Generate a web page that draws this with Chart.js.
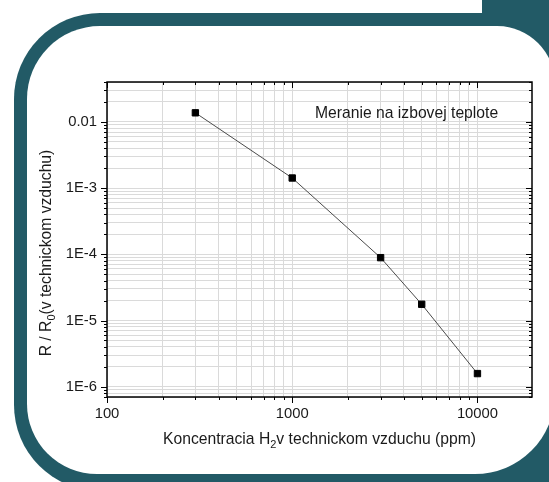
<!DOCTYPE html>
<html>
<head>
<meta charset="utf-8">
<script src="https://cdn.jsdelivr.net/npm/chart.js@4.4.1/dist/chart.umd.min.js"></script>
<style>
    html, body { margin: 0; padding: 0; background: #fff; overflow: hidden; }
    .tab { position: absolute; left: 482px; top: 0; width: 67px; height: 14px; background: #225a66; }
    .outer { position: absolute; left: 14px; top: 13px; width: 700px; height: 478px; border-radius: 86px; background: #225a66; }
    .inner { position: absolute; left: 27px; top: 26px; width: 528px; height: 448px; background: #fff;
             border-radius: 73px 58px 80px 70px; }
    .chart-box { position: absolute; left: 0; top: 0; width: 549px; height: 482px; }
</style>
</head>
<body>
<div class="tab"></div>
<div class="outer"></div>
<div class="inner"></div>
<div class="chart-box"><canvas id="sensorChart"></canvas></div>

<script>
    // Data
    const concentration = [300, 1000, 3000, 5000, 10000];           // ppm
    const resistanceRatio = [0.0137, 0.00142, 8.9e-5, 1.76e-5, 1.58e-6];

    const xTickValues = [100, 1000, 10000];
    const xTickLabels = ['100', '1000', '10000'];
    const yTickValues = [1e-6, 1e-5, 1e-4, 1e-3, 1e-2];
    const yTickLabels = ['1E-6', '1E-5', '1E-4', '1E-3', '0.01'];

    const seriesLabel = 'Meranie na izbovej teplote';
    const xTitle = [{ t: 'Koncentracia H' }, { t: '2', sub: true }, { t: 'v technickom vzduchu (ppm)' }];
    const yTitle = [{ t: 'R / R' }, { t: '0', sub: true }, { t: '(v technickom vzduchu)' }];

    const FONT = "'Liberation Sans', Arial, sans-serif";
    const TEXT_COLOR = '#1a1a1a';

    function isDecade(v) {
        const l = Math.log10(v);
        return Math.abs(l - Math.round(l)) < 1e-9;
    }

    // all 1..9 x 10^n ticks inside the range
    function logTicks(min, max) {
        const out = [];
        for (let e = Math.floor(Math.log10(min)); e <= Math.ceil(Math.log10(max)); e++) {
            for (let m = 1; m <= 9; m++) {
                const v = Number((m * Math.pow(10, e)).toPrecision(6));
                if (v >= min * 0.9999 && v <= max * 1.0001) out.push({ value: v });
            }
        }
        return out;
    }

    function labelFor(values, labels, v) {
        const i = values.findIndex(t => Math.abs(t - v) / t < 1e-6);
        return i >= 0 ? labels[i] : '';
    }

    function drawRich(ctx, parts, cx, baseline) {
        const mainFont = '15.7px ' + FONT;
        const subFont = '11px ' + FONT;
        let total = 0;
        parts.forEach(p => {
            ctx.font = p.sub ? subFont : mainFont;
            p.w = ctx.measureText(p.t).width;
            total += p.w;
        });
        let x = cx - total / 2;
        parts.forEach(p => {
            ctx.font = p.sub ? subFont : mainFont;
            ctx.fillText(p.t, x, baseline + (p.sub ? 4 : 0));
            x += p.w;
        });
    }

    // box, tick marks and texts
    const framePlugin = {
        id: 'framePlugin',
        afterDraw(chart) {
            const { ctx, chartArea: a, scales: { x, y } } = chart;
            ctx.save();
            ctx.strokeStyle = '#000';
            ctx.lineWidth = 1;
            ctx.beginPath();
            x.ticks.forEach(t => {
                const px = Math.round(x.getPixelForValue(t.value)) + 0.5;
                const len = isDecade(t.value) ? 6 : 3;
                ctx.moveTo(px, a.bottom); ctx.lineTo(px, a.bottom + len);
                ctx.moveTo(px, a.top); ctx.lineTo(px, a.top + len);
            });
            y.ticks.forEach(t => {
                const py = Math.round(y.getPixelForValue(t.value)) + 0.5;
                const len = isDecade(t.value) ? 6 : 3;
                ctx.moveTo(a.left - len, py); ctx.lineTo(a.left, py);
                ctx.moveTo(a.right - len, py); ctx.lineTo(a.right, py);
            });
            ctx.stroke();

            ctx.lineWidth = 1.5;
            ctx.strokeRect(a.left, a.top, a.right - a.left, a.bottom - a.top);

            ctx.fillStyle = TEXT_COLOR;
            ctx.textAlign = 'left';
            ctx.textBaseline = 'alphabetic';
            ctx.font = '15.7px ' + FONT;
            ctx.fillText(seriesLabel, 315, 118);

            drawRich(ctx, xTitle, (a.left + a.right) / 2, 444);

            ctx.translate(51, 253);
            ctx.rotate(-Math.PI / 2);
            drawRich(ctx, yTitle, 0, 0);
            ctx.restore();
        }
    };

    const ctx = document.getElementById('sensorChart').getContext('2d');
    new Chart(ctx, {
        type: 'line',
        data: {
            datasets: [{
                label: seriesLabel,
                data: concentration.map((c, i) => ({ x: c, y: resistanceRatio[i] })),
                borderColor: '#4a4a4a',
                borderWidth: 1,
                pointStyle: 'rect',
                pointRadius: 4.5,
                pointBorderWidth: 1,
                pointBackgroundColor: '#000',
                pointBorderColor: '#000',
                tension: 0
            }]
        },
        options: {
            responsive: true,
            maintainAspectRatio: false,
            animation: false,
            layout: { padding: { top: 82, right: 17, left: 0, bottom: 0 } },
            plugins: {
                legend: { display: false },
                tooltip: { enabled: false }
            },
            scales: {
                x: {
                    type: 'logarithmic',
                    position: 'bottom',
                    min: 100,
                    max: 19700,
                    afterBuildTicks: scale => { scale.ticks = logTicks(100, 19700); },
                    afterFit: scale => { scale.height = 85; },
                    grid: { color: '#dadada', lineWidth: 1, drawTicks: false },
                    border: { display: false },
                    ticks: {
                        autoSkip: false,
                        maxRotation: 0,
                        padding: 8,
                        color: TEXT_COLOR,
                        font: { family: FONT, size: 14.8 },
                        callback: v => labelFor(xTickValues, xTickLabels, v)
                    }
                },
                y: {
                    type: 'logarithmic',
                    position: 'left',
                    min: 7e-7,
                    max: 0.04,
                    afterBuildTicks: scale => { scale.ticks = logTicks(7e-7, 0.04); },
                    afterFit: scale => { scale.width = 107; },
                    grid: { color: '#dadada', lineWidth: 1, drawTicks: false },
                    border: { display: false },
                    ticks: {
                        autoSkip: false,
                        padding: 10,
                        color: TEXT_COLOR,
                        font: { family: FONT, size: 14.8 },
                        callback: v => labelFor(yTickValues, yTickLabels, v)
                    }
                }
            }
        },
        plugins: [framePlugin]
    });
</script>
</body>
</html>
